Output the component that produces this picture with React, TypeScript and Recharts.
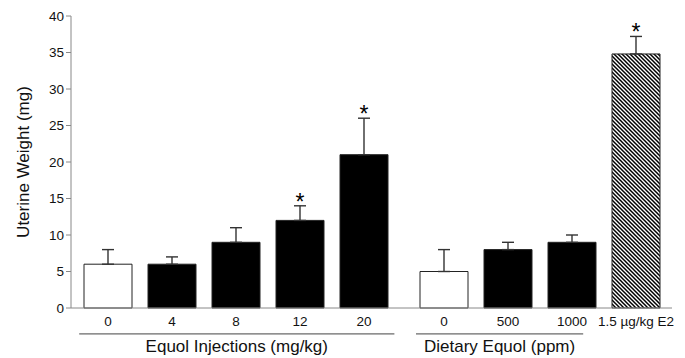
import {
  Bar,
  Cell,
  ComposedChart,
  ErrorBar,
  LabelList,
  ReferenceLine,
  XAxis,
  YAxis
} from "recharts";

// data
const TREATMENTS = ["0", "4", "8", "12", "20", "0", "500", "1000", "1.5 µg/kg E2"];
const KIND = ["control", "equol", "equol", "equol", "equol", "control", "equol", "equol", "e2"];
const MEAN = [6, 6, 9, 12, 21, 5, 8, 9, 34.8];
const SEM = [2, 1, 2, 2, 5, 3, 1, 1, 2.4];
const SIGNIFICANT = [false, false, false, true, true, false, false, false, true];
const Y_TICKS = [0, 5, 10, 15, 20, 25, 30, 35, 40];
const GROUP_LABELS = ["Equol Injections (mg/kg)", "Dietary Equol (ppm)"];

// layout: horizontal slot of each bar (bars are grouped with uneven gaps)
const SLOT = [0, 4, 8, 12, 16, 21, 25, 29, 33];
const GROUP_SPAN = [
  [-1.8, 17.9],
  [19.25, 29.7]
];

const FONT = "'Liberation Sans', Arial, sans-serif";

const FILL: Record<string, string> = {
  control: "#ffffff",
  equol: "#000000",
  e2: "url(#hatch)"
};

const data = TREATMENTS.map((name, i) => ({
  name,
  slot: SLOT[i],
  mean: MEAN[i],
  err: [0, SEM[i]]
}));

function Star(props: any) {
  const { x, y, width, height, value, index } = props;
  if (!SIGNIFICANT[index]) return null;
  const pxPerUnit = height / value;
  const top = y - SEM[index] * pxPerUnit;
  return (
    <text
      x={x + width / 2}
      y={top + 4}
      textAnchor="middle"
      fontSize={23}
      fontFamily={FONT}
      fill="#000"
    >
      *
    </text>
  );
}

export default function App() {
  return (
    <div style={{ position: "absolute", left: 0, top: 0, background: "#fff" }}>
      <ComposedChart
        width={685}
        height={358}
        data={data}
        margin={{ top: 16, right: 13, bottom: 20, left: 0 }}
      >
        <defs>
          <pattern id="hatch" patternUnits="userSpaceOnUse" width={4} height={4}>
            <rect width={4} height={4} fill="#fff" />
            <path d="M0,0 l4,4 M-1,3 l2,2 M3,-1 l2,2" stroke="#000" strokeWidth={1.5} />
          </pattern>
        </defs>
        <XAxis
          dataKey="slot"
          type="number"
          domain={[-2.3125, 35.25]}
          ticks={SLOT}
          interval={0}
          tickFormatter={v => TREATMENTS[SLOT.indexOf(v)] ?? ""}
          tickLine={false}
          axisLine={{ stroke: "#888" }}
          tick={{ fontSize: 13.5, fill: "#111", fontFamily: FONT }}
          height={30}
        />
        <YAxis
          domain={[0, 40]}
          ticks={Y_TICKS}
          interval={0}
          width={71}
          axisLine={{ stroke: "#888" }}
          tickLine={{ stroke: "#888" }}
          tickSize={5}
          tick={{ fontSize: 13.5, fill: "#111", fontFamily: FONT }}
          label={{
            value: "Uterine Weight (mg)",
            angle: -90,
            position: "insideLeft",
            offset: 23,
            style: { textAnchor: "middle", fontSize: 17, fill: "#111", fontFamily: FONT }
          }}
        />
        <Bar dataKey="mean" barSize={48} isAnimationActive={false} stroke="#222" strokeWidth={1}>
          {data.map((d, i) => (
            <Cell key={i} fill={FILL[KIND[i]]} />
          ))}
          <ErrorBar dataKey="err" width={6} stroke="#333" strokeWidth={1.4} />
          <LabelList dataKey="mean" content={Star} />
        </Bar>
        {GROUP_LABELS.map((label, i) => (
          <ReferenceLine
            key={label}
            ifOverflow="visible"
            segment={[
              { x: GROUP_SPAN[i][0], y: -3.55 },
              { x: GROUP_SPAN[i][1], y: -3.55 }
            ]}
            stroke="#444"
            strokeWidth={1}
            label={{
              value: label,
              position: "bottom",
              offset: 6,
              style: { fontSize: 17, fill: "#111", fontFamily: FONT }
            }}
          />
        ))}
      </ComposedChart>
    </div>
  );
}
